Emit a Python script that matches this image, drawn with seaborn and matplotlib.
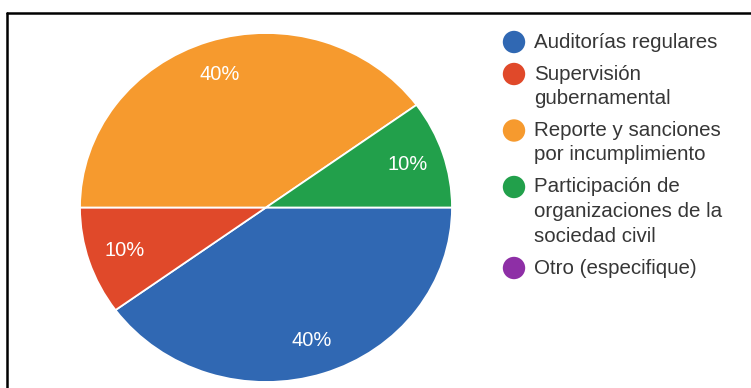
import matplotlib
matplotlib.use("Agg")
import matplotlib.pyplot as plt
from matplotlib.lines import Line2D
import seaborn as sns

# Survey answers and their share of responses (%)
categories = [
    "Auditorías regulares",
    "Supervisión\ngubernamental",
    "Reporte y sanciones\npor incumplimiento",
    "Participación de\norganizaciones de la\nsociedad civil",
    "Otro (especifique)",
]
shares = [40, 10, 40, 10, 0]
colors = ["#3068B3", "#E0492A", "#F69A2E", "#22A04B", "#8E2FA6"]

sns.set_theme(style="white")
plt.rcParams["font.family"] = ["Liberation Sans", "DejaVu Sans"]

W, H, DPI = 751, 388, 100
fig = plt.figure(figsize=(W / DPI, H / DPI), dpi=DPI)
fig.patch.set_facecolor("white")

def px_axes(x0, y0, x1, y1):
    return fig.add_axes([x0 / W, 1 - y1 / H, (x1 - x0) / W, (y1 - y0) / H])

# Pie (only slices with responses are drawn; all options appear in the legend)
ax = px_axes(80, 33, 452, 382)
drawn = [(v, c) for v, c in zip(shares, colors) if v > 0]
vals = [v for v, _ in drawn]
cols = [c for _, c in drawn]
wedges, texts, autotexts = ax.pie(
    vals,
    colors=cols,
    startangle=0,
    counterclock=False,
    autopct=lambda p: f"{p:.0f}%",
    pctdistance=0.80,
    wedgeprops=dict(edgecolor="white", linewidth=1.3),
    textprops=dict(color="white", fontsize=14.5),
)
ax.set_aspect("auto")
ax.set_xlim(-1.0, 1.0)
ax.set_ylim(-1.0, 1.0)
ax.axis("off")

# Legend drawn in pixel coordinates on an overlay
ov = fig.add_axes([0, 0, 1, 1], facecolor="none")
ov.set_xlim(0, W)
ov.set_ylim(H, 0)
ov.axis("off")

y = 42
line_h = 24.5
gap = 7.5
for label, c in zip(categories, colors):
    lines = label.split("\n")
    ov.scatter([514], [y], s=260, color=c, edgecolors="none", zorder=3)
    for i, ln in enumerate(lines):
        ov.text(534, y + i * line_h, ln, fontsize=14.8, color="#363636",
                va="center", ha="left")
    y += line_h * len(lines) + gap

# Outer frame (top and left edges)
fig.add_artist(Line2D([7 / W, 1], [1 - 12.5 / H, 1 - 12.5 / H],
                      transform=fig.transFigure, color="black", lw=1.8))
fig.add_artist(Line2D([7 / W, 7 / W], [0, 1 - 12.5 / H],
                      transform=fig.transFigure, color="black", lw=1.8))

fig.savefig("out.png", dpi=DPI, facecolor="white")
